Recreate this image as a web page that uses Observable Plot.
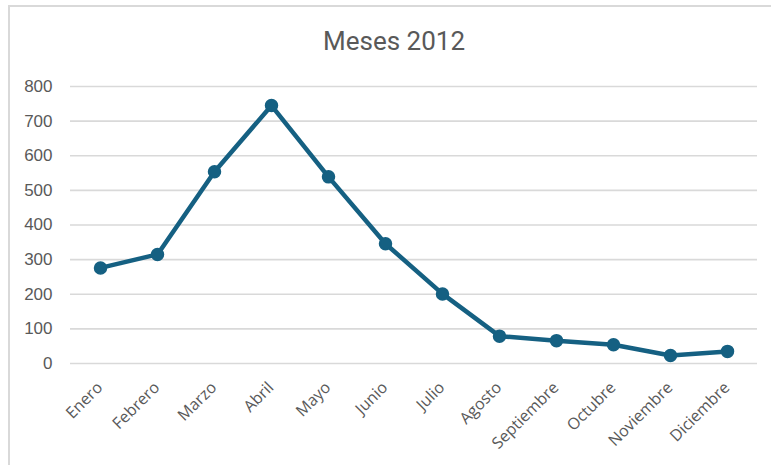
<!DOCTYPE html>
<html>
<head>
<meta charset="utf-8">
<script src="https://cdn.jsdelivr.net/npm/d3@7"></script>
<script src="https://cdn.jsdelivr.net/npm/@observablehq/plot@0.6"></script>
<style>
  html, body { margin: 0; padding: 0; background: #fff; }
  #wrap { position: relative; width: 771px; height: 465px; overflow: hidden; background: #fff; }
  #frame { position: absolute; left: 8px; top: 5px; width: 800px; height: 500px;
           border-top: 2px solid #d9d9d9; border-left: 2px solid #d9d9d9; }
  #title { position: absolute; left: 0; top: 26px; width: 788px; text-align: center;
           font-family: Roboto, sans-serif; font-size: 26px; color: #595959; }
  #chart { position: absolute; left: 0; top: 70px; }
</style>
</head>
<body>
<div id="wrap">
  <div id="frame"></div>
  <div id="title">Meses 2012</div>
  <div id="chart"></div>
</div>
<script>
const months = ["Enero","Febrero","Marzo","Abril","Mayo","Junio","Julio","Agosto","Septiembre","Octubre","Noviembre","Diciembre"];
const values = [276, 315, 554, 745, 539, 346, 201, 79, 66, 54, 23, 35];
const yTicks = [0, 100, 200, 300, 400, 500, 600, 700, 800];

const data = months.map((m, i) => ({month: m, value: values[i]}));
const color = "#156082";

const chart = Plot.plot({
  width: 771,
  height: 395,
  marginLeft: 70,
  marginRight: 14,
  marginTop: 16,
  marginBottom: 102,
  style: {fontFamily: "Liberation Sans, Arial, sans-serif", fontSize: "17px", color: "#595959", background: "transparent"},
  x: {type: "point", domain: months, padding: 0.5, label: null, axis: null},
  y: {domain: [0, 800], label: null},
  marks: [
    Plot.gridY(yTicks, {stroke: "#d9d9d9", strokeOpacity: 1, strokeWidth: 1.6}),
    Plot.axisY(yTicks, {tickSize: 0, tickPadding: 18, fill: "#595959", fontSize: 17}),
    Plot.text(months, {x: d => d, y: () => 0, text: d => d, rotate: -45, textAnchor: "end", lineAnchor: "top",
      dx: -5, dy: 17, fill: "#595959", fontSize: 16, fontFamily: "Open Sans, sans-serif"}),
    Plot.line(data, {x: "month", y: "value", stroke: color, strokeWidth: 4.5, strokeLinejoin: "round", strokeLinecap: "round"}),
    Plot.dot(data, {x: "month", y: "value", fill: color, r: 6, stroke: color})
  ]
});
document.getElementById("chart").appendChild(chart);
</script>
</body>
</html>
